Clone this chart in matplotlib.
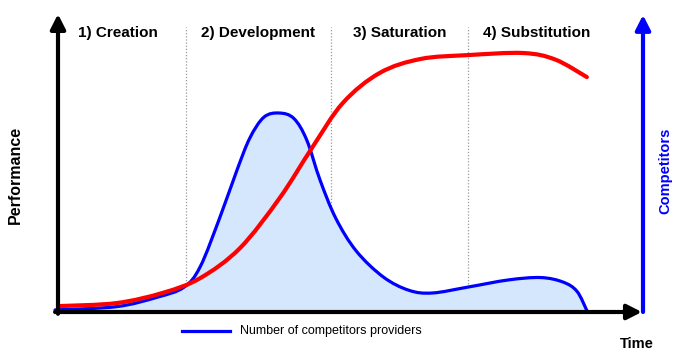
import matplotlib
matplotlib.use("Agg")
import matplotlib.pyplot as plt
from matplotlib.path import Path
from matplotlib.patches import PathPatch
import numpy as np

# ---- data (time units 0..100, value units 0..100) ----
perf_t = [0.3, 10.0, 18.0, 24.3, 31.1, 37.9, 43.4, 48.7, 55.0, 62.0, 70.1, 79.5, 85.0, 90.4]
perf_v = [2.0, 3.0, 6.5, 11.4, 21.5, 38.4, 55.2, 70.4, 80.5, 85.2, 86.5, 87.2, 85.0, 79.1]

comp_t = [-0.5, 10.0, 17.0, 21.5, 24.3, 27.7, 30.6, 32.8, 35.2, 37.8, 40.3, 42.5, 44.8,
          47.5, 51.0, 55.6, 60.0, 64.0, 70.1, 77.0, 82.5, 86.3, 88.7, 90.4]
comp_v = [0.7, 1.8, 5.0, 8.3, 15.2, 32.0, 47.8, 58.6, 65.6, 67.0, 65.2, 58.0, 44.4,
          31.5, 20.5, 11.8, 7.3, 6.4, 8.4, 10.8, 11.6, 10.1, 7.0, 0.5]

phase_x = [21.9, 46.7, 70.1]
phase_labels = ["1) Creation", "2) Development", "3) Saturation", "4) Substitution"]
phase_label_x = [10.3, 34.2, 58.5, 81.9]

W, H = 684, 363
fig = plt.figure(figsize=(W / 100, H / 100), dpi=100)
plt.rcParams['font.family'] = ['Liberation Sans', 'DejaVu Sans']
ax = fig.add_axes([58 / W, (H - 312) / H, 585 / W, 297 / H])
ax.set_xlim(0, 100)
ax.set_ylim(0, 100)
ax.axis('off')


def smooth_path(xs, ys, close_to_base=False):
    """Cubic Bezier path (Catmull-Rom tangents) passing through the read points."""
    p = np.column_stack([xs, ys]).astype(float)
    n = len(p)
    verts = [p[0]]
    codes = [Path.MOVETO]
    for i in range(n - 1):
        p0 = p[i - 1] if i > 0 else p[i]
        p1, p2 = p[i], p[i + 1]
        p3 = p[i + 2] if i + 2 < n else p[i + 1]
        c1 = p1 + (p2 - p0) / 6.0
        c2 = p2 - (p3 - p1) / 6.0
        verts += [c1, c2, p2]
        codes += [Path.CURVE4] * 3
    if close_to_base:
        verts += [(p[-1][0], 0), (p[0][0], 0), p[0]]
        codes += [Path.LINETO, Path.LINETO, Path.CLOSEPOLY]
    return Path(verts, codes)


# phase separators
for px in phase_x:
    ax.plot([px, px], [0, 96], color='#9a9a9a', lw=0.9, ls=(0, (1, 1.5)), zorder=1)

# competitors fill + line
ax.add_patch(PathPatch(smooth_path(comp_t, comp_v, True), facecolor='#d5e7fc',
                       edgecolor='none', zorder=2, clip_on=False))
ax.add_patch(PathPatch(smooth_path(comp_t, comp_v), facecolor='none',
                       edgecolor='#0000ff', lw=2.3, zorder=3, clip_on=False,
                       capstyle='round', joinstyle='round'))
# performance
ax.add_patch(PathPatch(smooth_path(perf_t, perf_v), facecolor='none',
                       edgecolor='#ff0000', lw=3.0, zorder=4, clip_on=False,
                       capstyle='round', joinstyle='round'))

# axes arrows
def arrow(x0, y0, x1, y1, color, lw=3.0):
    ax.annotate('', xy=(x1, y1), xytext=(x0, y0), xycoords='data',
                arrowprops=dict(arrowstyle='-|>,head_length=0.55,head_width=0.28',
                                color=color, lw=lw, mutation_scale=16,
                                shrinkA=0, shrinkB=0),
                annotation_clip=False, zorder=6)

arrow(-0.5, 0, 99.8, 0, 'black')
arrow(0, -0.6, 0, 100.3, 'black')
arrow(100, 0, 100, 100, '#0000ff')

# labels
for lx, lab in zip(phase_label_x, phase_labels):
    ax.text(lx, 93.9, lab, ha='center', va='center', fontsize=11,
            fontweight='bold', color='black')

ax.text(-7.35, 46.1, "Performance", rotation=90, ha='center', va='center',
        fontsize=11.5, fontweight='bold', clip_on=False)
ax.text(103.8, 47.5, "Competitors", rotation=90, ha='center', va='center',
        fontsize=10.5, fontweight='bold', color='#0000ff', clip_on=False)
ax.text(98.9, -10.8, "Time", ha='center', va='center', fontsize=10.5,
        fontweight='bold', clip_on=False)

# legend
ax.plot([21.2, 29.4], [-6.4, -6.4], color='#0000ff', lw=2.3, clip_on=False)
ax.text(31.1, -6.4, "Number of competitors providers", ha='left', va='center',
        fontsize=9, clip_on=False)

fig.savefig("out.png", dpi=100)
